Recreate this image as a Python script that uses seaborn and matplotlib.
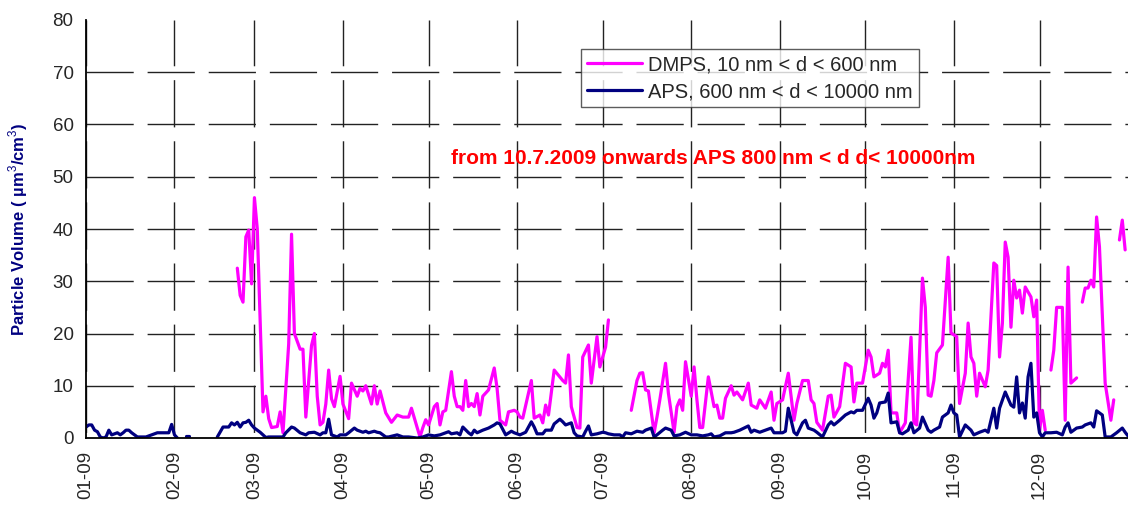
import numpy as np
import pandas as pd
import matplotlib
matplotlib.use("Agg")
import matplotlib.pyplot as plt
import seaborn as sns

nan = np.nan

# ---- data (day of year offset from 2009-01-01, value in um3/cm3); nan = gap ----
dmps_day = [53, 54, 55, 56, 57, 58, 59, 60, 62, 63, 64, 65, 67, 68, 69, 71, 72, 73, 75, 76,
            77, 79, 80, 81, 82, 83, 84, 85, 86, 87, 89, 90, 92, 93, 95, 96, 97, 98, 100, 101,
            102, 103, 105, 107, 109, 111, 113, 114, 116, 117, 118, 119, 120, 122, 123, 124, 125,
            126, 128, 129, 130, 131, 132, 133, 134, 135, 136, 137, 138, 139, 141, 143, 144, 145,
            147, 148, 150, 151, 152, 153, 156, 157, 159, 160, 161, 162, 164, 167, 168, 169, 170,
            172, 173, 174, 176, 177, 179, 180, 182, 183,
            187,
            191, 193, 194, 195, 196, 197, 199, 200, 201, 203, 204, 206, 207, 208, 209, 210, 212,
            213, 214, 215, 216, 218, 220, 221, 222, 223, 224, 226, 227, 228, 230, 232, 233, 235,
            236, 238, 240, 241, 242, 244, 246, 248, 249, 251, 253, 254, 255, 256, 258, 260, 261,
            262, 264, 266, 268, 269, 270, 272, 274, 275, 276, 278, 279, 280, 281, 282, 284, 285,
            287, 289, 290, 291, 293, 294, 295, 296, 297, 298, 300, 302, 303, 305, 306, 308, 309,
            310, 311, 312, 313, 315, 316, 318, 319, 320, 321, 322, 323, 324, 325, 326, 327, 328,
            329, 331, 332, 333, 334, 335, 336,
            337,
            338, 339, 340, 342, 343, 344, 345, 347,
            348,
            349, 350, 351, 352, 353, 354, 355, 357, 359, 360,
            361,
            362, 363, 364]
dmps_val = [32.5, 27.3, 26.0, 38.5, 39.8, 29.5, 46.0, 40.0, 5.0, 8.0, 3.7, 2.0, 2.2, 5.0, 1.0, 18.0, 39.0, 20.0, 17.0, 17.0,
            4.0, 17.7, 20.0, 8.0, 2.5, 3.0, 6.5, 13.0, 7.5, 6.0, 11.8, 6.5, 3.7, 10.5, 8.0, 9.5, 9.0, 10.0, 6.5, 10.0,
            6.5, 9.0, 4.8, 3.0, 4.4, 4.0, 4.0, 5.7, 2.0, 0.2, 2.0, 3.5, 2.5, 6.0, 6.6, 2.5, 5.0,
            5.3, 12.7, 8.0, 6.0, 6.0, 5.3, 11.0, 6.0, 6.6, 6.0, 8.5, 4.4, 8.0, 9.2, 13.4, 9.5, 3.4,
            2.5, 5.0, 5.3, 5.0, 4.0, 3.8, 11.0, 3.8, 4.4, 2.9, 6.3, 4.4, 13.0, 11.0, 10.5, 15.9, 6.0,
            2.0, 1.9, 15.5, 17.8, 10.5, 19.4, 13.6, 17.4, 22.6,
            nan,
            5.3, 11.0, 12.4, 12.5, 9.2, 9.0, 1.0, 4.0, 7.3, 14.3, 8.6, 1.1, 6.0, 7.3, 5.3, 14.6, 8.0,
            13.6, 7.3, 2.0, 2.0, 11.7, 6.0, 6.3, 3.8, 3.8, 7.6, 10.0, 8.2, 8.8, 7.3, 10.5, 6.3, 5.7,
            7.3, 5.7, 8.8, 3.4, 6.6, 7.3, 12.4, 3.4, 6.6, 11.0, 11.0, 7.3, 6.6, 3.0, 1.5, 8.0, 8.2,
            4.0, 6.0, 14.3, 13.6, 6.9, 10.5, 10.5, 16.8, 15.5, 11.7, 12.4, 14.3, 13.6, 16.8, 4.8, 4.8, 1.0,
            2.9, 19.3, 2.9, 2.5, 30.6, 25.0, 8.2, 8.0, 11.0, 16.3, 17.8, 34.6, 20.1, 19.4, 6.6, 12.4, 22.0,
            15.5, 14.3, 8.0, 12.4, 9.8, 13.0, 33.5, 33.0, 15.5, 22.0, 37.5, 34.6, 21.2, 30.2, 26.8, 28.3, 23.9,
            28.9, 27.0, 23.2, 26.4, 1.5, 5.3, 1.5,
            nan,
            13.0, 16.8, 25.0, 25.0, 3.4, 32.7, 10.5, 11.5,
            nan,
            26.0, 28.7, 28.7, 30.2, 28.9, 42.3, 36.6, 10.5, 3.4, 7.3,
            nan,
            37.9, 41.7, 36.0]

aps_day = [0, 1, 2, 3, 4, 5, 6, 7, 8, 9, 11, 12, 13, 14, 15, 16, 18, 19, 21, 23, 25, 28, 29, 30, 31, 32,
           33,
           35, 36,
           40,
           46, 48, 50, 51, 52, 53, 54, 55, 56, 57, 58, 59, 60, 61, 62, 63, 64, 67, 68, 69, 70, 72, 73,
           75, 77, 78, 80, 82, 83, 84, 85, 86, 88, 89, 91, 92, 94, 95, 96, 97, 98, 99, 101, 102, 103,
           105, 106, 109, 111, 113, 116, 118, 120, 122, 124, 126, 127, 128, 130, 131, 132, 134, 135,
           136, 137, 139, 141, 143, 144, 145, 147, 149, 150, 152, 154, 156, 157, 158, 160, 161, 163,
           164, 166, 167, 168, 170, 171, 172, 174, 175, 176, 177, 179, 181, 182, 183, 185, 187, 188,
           189, 191, 193, 195, 196, 198, 199, 200, 202, 203, 205, 206, 208, 210, 212, 214, 216, 218,
           219, 220, 222, 224, 226, 227, 229, 232, 233, 234, 236, 238, 240, 241, 242, 244, 245, 246,
           248, 249, 251, 252, 253, 255, 256, 258, 260, 261, 262, 264, 266, 268, 269, 270, 272, 274,
           275, 276, 277, 278, 280, 281, 282, 284, 285, 286, 288, 289, 290, 292, 293, 295, 296, 297,
           299, 300, 302, 303, 304, 305, 306, 308, 310, 311, 313, 315, 316, 318, 319, 320, 322, 324,
           325, 326, 327, 328, 329, 330, 331, 332, 333, 334, 335, 336, 338, 340, 342, 343, 344, 345,
           347, 349, 350, 352, 353, 354, 356, 357, 359, 361, 363, 364, 365]
aps_val = [2.1, 2.5, 2.5, 1.5, 1.2, 0.2, 0.0, 0.2, 1.5, 0.6, 1.0, 0.6, 1.0, 1.5, 1.5, 1.0, 0.2, 0.2, 0.2, 0.6, 1.0, 1.0, 1.0, 2.6, 0.6, 0.0,
           nan,
           0.4, 0.4,
           nan,
           0.2, 2.1, 2.1, 2.9, 2.5, 3.0, 2.1, 2.9, 3.0, 3.4, 2.5, 1.9, 1.5, 1.1, 0.6, 0.1, 0.2, 0.2, 0.2, 0.2, 1.0, 2.1, 1.9,
           1.0, 0.6, 1.0, 1.1, 0.6, 1.0, 1.0, 3.6, 0.6, 0.2, 0.6, 0.6, 1.0, 1.9, 1.5, 1.3, 1.1, 1.3, 1.0, 1.3, 1.1, 1.0,
           0.2, 0.2, 0.6, 0.2, 0.2, 0.0, 0.2, 0.6, 0.4, 0.6, 1.0, 1.2, 0.8, 1.0, 0.6, 2.1, 1.0, 0.6,
           1.5, 1.0, 1.5, 1.9, 2.5, 2.9, 2.7, 0.6, 1.3, 1.0, 0.6, 1.1, 3.1, 2.1, 0.8, 0.8, 1.5, 1.5,
           2.7, 3.6, 3.1, 2.5, 2.9, 1.0, 0.4, 0.2, 1.3, 2.3, 0.6, 0.8, 1.1, 1.0, 0.8, 0.6, 0.6, 0.2,
           1.0, 0.8, 1.3, 1.1, 1.5, 1.9, 0.2, 0.6, 1.5, 1.9, 1.5, 0.4, 0.6, 1.1, 0.6, 0.6, 0.4, 0.6,
           0.8, 0.2, 0.4, 1.0, 1.0, 1.1, 1.5, 2.3, 1.1, 1.5, 1.1, 1.5, 1.9, 1.0, 1.0, 1.0, 1.3, 5.7,
           1.1, 0.6, 2.9, 3.4, 1.9, 1.5, 1.1, 0.2, 2.5, 3.1, 2.5, 3.4, 4.4, 5.0, 4.8, 5.3, 5.3, 7.6,
           6.3, 3.8, 4.8, 6.7, 6.9, 8.6, 2.9, 3.1, 1.0, 0.8, 1.5, 2.9, 1.0, 1.9, 4.0, 1.5, 1.1, 1.5,
           2.1, 4.0, 4.8, 6.3, 4.8, 4.4, 0.2, 2.5, 1.5, 0.6, 1.1, 1.5, 1.1, 5.7, 1.9, 5.7, 8.8, 6.3,
           5.9, 11.7, 4.8, 6.7, 3.8, 11.7, 14.3, 4.0, 4.8, 1.0, 0.2, 1.0, 1.0, 1.1, 0.6, 2.1, 2.9, 1.1,
           1.9, 2.1, 2.5, 2.9, 2.1, 5.2, 4.4, 0.2, 0.2, 1.0, 1.9, 1.1, 0.4]

series_names = ["DMPS, 10 nm < d < 600 nm", "APS, 600 nm < d < 10000 nm"]
series_colors = ["#FF00FF", "#000080"]
y_ticks = [0, 10, 20, 30, 40, 50, 60, 70, 80]
month_starts = pd.date_range("2009-01-01", periods=12, freq="MS")
x_tick_labels = [d.strftime("%m-%y") for d in month_starts]
note_text = "from 10.7.2009 onwards APS 800 nm < d d< 10000nm"
y_label = "Particle Volume ( \u00b5m$^3$/cm$^3$)"


def to_frame(days, vals, name):
    df = pd.DataFrame({"day": days, "value": vals})
    df["seg"] = df["value"].isna().cumsum()
    df = df.dropna()
    df["series"] = name
    df["seg"] = name + "_" + df["seg"].astype(str)
    return df


data = pd.concat([to_frame(dmps_day, dmps_val, series_names[0]),
                  to_frame(aps_day, aps_val, series_names[1])], ignore_index=True)

sns.set_style("white")
plt.rcParams["font.family"] = ["Liberation Sans", "DejaVu Sans"]
plt.rcParams["lines.scale_dashes"] = False
plt.rcParams["mathtext.fontset"] = "custom"
plt.rcParams["mathtext.rm"] = "Liberation Sans"
plt.rcParams["mathtext.bf"] = "Liberation Sans:bold"

W, H = 1128, 505
fig = plt.figure(figsize=(W / 100, H / 100), dpi=100)
ax = fig.add_axes([86 / W, 1 - 438 / H, (W - 86) / W, 418 / H])

sns.lineplot(data=data, x="day", y="value", hue="series", units="seg", estimator=None,
             hue_order=series_names, palette=series_colors, sort=False, linewidth=2.3,
             ax=ax)

ax.set_xlim(0, 365)
ax.set_ylim(0, 80)
ax.set_yticks(y_ticks)
ax.set_yticklabels([str(v) for v in y_ticks], fontsize=13.5)
start = pd.Timestamp("2009-01-01")
ax.set_xticks([(d - start).days for d in month_starts])
ax.set_xticklabels(x_tick_labels, rotation=90, fontsize=13.5, va="top", ha="center")
ax.tick_params(axis="both", direction="out", length=6, width=1, color="black", pad=3)
ax.set_xlabel("")
ax.set_ylabel(y_label, fontsize=12, fontweight="bold", color="#000080")
ax.yaxis.set_label_coords(-0.054, 0.5)

ax.grid(True, axis="both", color="#222222", linewidth=1.0,
        linestyle=(0, (34, 10)))
for gl in ax.get_ygridlines():
    gl.set_linestyle((0, (34, 10)))
for gl in ax.get_xgridlines():
    gl.set_linestyle((40, (34, 10)))
ax.get_ygridlines()[-1].set_visible(False)
ax.get_ygridlines()[0].set_visible(False)
ax.set_axisbelow(True)

for s in ["top", "right"]:
    ax.spines[s].set_visible(False)
for s in ["left", "bottom"]:
    ax.spines[s].set_color("black")
    ax.spines[s].set_linewidth(1.3)

sns.move_legend(ax, loc="upper left", bbox_to_anchor=((581 - 86) / (W - 86), (438 - 49) / 418),
                title=None, frameon=True, fontsize=14.5, handlelength=2.75, handletextpad=0.3,
                borderpad=0.3, labelspacing=0.4, fancybox=False, borderaxespad=0)
leg = ax.get_legend()
leg.get_frame().set_edgecolor("#333333")
leg.get_frame().set_linewidth(1.0)
for ln in leg.get_lines():
    ln.set_linewidth(2.3)

ax.text((713 - 86) / (W - 86), (438 - 158) / 418, note_text, transform=ax.transAxes,
        ha="center", va="center", color="#FF0000", fontsize=15, fontweight="bold")

fig.savefig("out.png", dpi=100)
